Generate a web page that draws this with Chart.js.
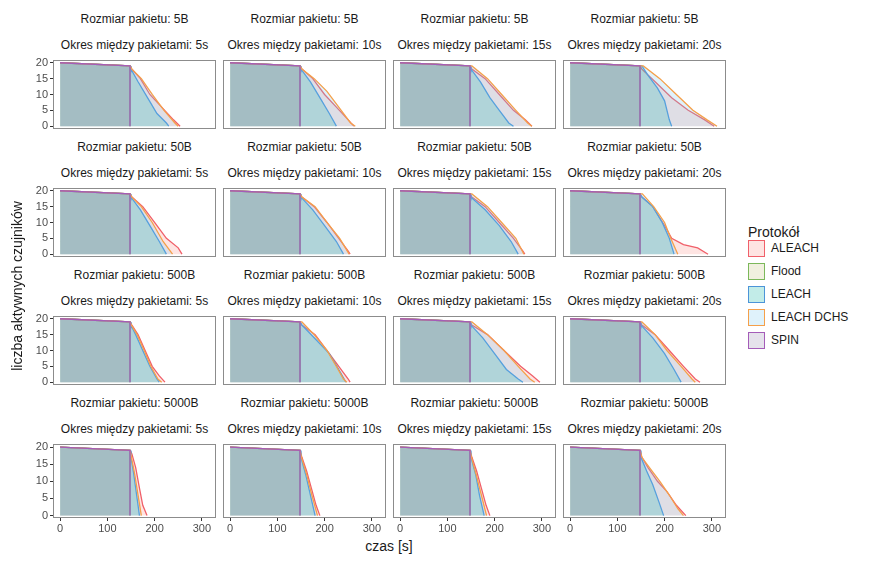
<!DOCTYPE html>
<html lang="pl">
<head>
<meta charset="UTF-8">
<script src="https://cdn.jsdelivr.net/npm/chart.js"></script>
<style>
  body { margin:0; width:872px; height:564px; background:#fff; font-family:"Liberation Sans", Arial, sans-serif; position:relative; overflow:hidden; }
  .t { position:absolute; font-size:12px; color:#1a1a1a; text-align:center; width:170px; }
  .c { position:absolute; }
  .lg { position:absolute; left:748px; font-size:12px; color:#1a1a1a; }
  .sw { display:inline-block; width:17px; height:17px; box-sizing:border-box; border:1px solid; vertical-align:middle; margin-right:6px; }
</style>
</head>
<body>
<div id="root"></div>
<script>
  const sizes = ['5B', '50B', '500B', '5000B'];
  const periods = ['5s', '10s', '15s', '20s'];
  const protocols = ['ALEACH', 'Flood', 'LEACH', 'LEACH DCHS', 'SPIN'];
  const xTicks = [0, 100, 200, 300];
  const yTicks = [0, 5, 10, 15, 20];

  // common start of every series: 20 sensors, slow decline until ~148 s
  const plateau = [[0, 20], [148, 19]];

  // tails after the plateau, one per panel (row = size, col = period)
  const aleach = [
    [[152,18],[170,15],[190,10],[215,6],[240,2],[254,0]],
    [[152,18],[175,15],[200,10],[225,6],[250,2],[262,0]],
    [[152,18],[180,15],[210,10],[240,5],[265,2],[279,0]],
    [[152,18],[180,14],[215,9],[250,5],[285,2],[305,0]],
    [[152,18],[175,15],[200,10],[225,5],[250,2],[258,0]],
    [[152,18],[178,15],[205,10],[230,5],[250,1],[254,0]],
    [[152,18],[180,15],[210,10],[240,5],[260,1],[264,0]],
    [[152,18],[175,15],[200,9],[215,5],[240,3],[270,2],[292,0]],
    [[152,18],[165,15],[180,10],[195,5],[210,2],[222,0]],
    [[152,18],[180,15],[205,10],[230,5],[250,1],[254,0]],
    [[152,18],[185,15],[220,10],[255,5],[280,2],[296,0]],
    [[152,18],[180,15],[210,10],[240,5],[265,1],[275,0]],
    [[152,18],[160,14],[168,8],[175,3],[184,0]],
    [[152,17],[162,13],[172,8],[182,3],[190,0]],
    [[152,17],[162,13],[172,8],[182,3],[190,0]],
    [[152,17],[165,14],[185,10],[205,7],[225,3],[245,0]]
  ];
  const leach = [
    [[150,18],[165,14],[185,9],[205,4],[225,1],[230,0]],
    [[150,18],[170,14],[190,9],[210,4],[225,0]],
    [[150,18],[170,14],[190,9],[210,5],[230,1],[240,0]],
    [[152,19],[165,16],[185,12],[200,8],[210,2],[215,0]],
    [[150,18],[170,14],[190,9],[210,4],[225,0]],
    [[150,18],[175,14],[200,9],[225,4],[240,0]],
    [[150,18],[180,14],[210,9],[235,4],[250,0]],
    [[152,18],[175,15],[195,10],[210,5],[220,0]],
    [[150,18],[160,15],[175,10],[190,5],[205,1],[210,0]],
    [[152,18],[178,14],[210,9],[230,4],[245,0]],
    [[150,18],[175,14],[200,9],[225,4],[250,1],[260,0]],
    [[150,18],[175,14],[200,9],[220,4],[235,0]],
    [[150,17],[156,12],[162,6],[168,0]],
    [[150,17],[160,12],[170,6],[180,0]],
    [[150,17],[160,12],[168,6],[178,0]],
    [[150,17],[162,13],[175,9],[188,4],[198,0]]
  ];
  const dchs = [
    [[152,18],[172,15],[195,10],[220,5],[243,1],[250,0]],
    [[152,18],[178,15],[205,11],[230,6],[255,1],[265,0]],
    [[152,19],[185,15],[215,10],[245,5],[270,1],[279,0]],
    [[155,19],[190,15],[225,10],[260,5],[290,2],[311,0]],
    [[152,18],[172,15],[195,10],[218,4],[238,0]],
    [[152,18],[180,15],[205,10],[232,5],[252,0]],
    [[152,19],[185,15],[215,10],[245,5],[262,0]],
    [[153,19],[177,15],[200,10],[213,5],[228,0]],
    [[151,18],[163,15],[178,10],[192,5],[207,1],[215,0]],
    [[152,19],[178,15],[205,10],[225,5],[240,1],[247,0]],
    [[152,19],[185,15],[220,10],[250,5],[275,1],[285,0]],
    [[152,19],[180,15],[205,10],[235,5],[258,1],[265,0]],
    [[151,17],[158,12],[165,6],[172,0]],
    [[151,17],[162,12],[173,6],[185,0]],
    [[151,17],[161,12],[172,6],[183,0]],
    [[152,17],[168,14],[190,10],[210,6],[228,2],[240,0]]
  ];
  const flood = [[148, 0]];
  const spin = [[148, 0]];

  const styles = {
    'ALEACH':     { fill: 'rgba(248,118,109,0.2)',  line: '#F0606A' },
    'Flood':      { fill: 'rgba(190,185,110,0.22)', line: '#7CB85A' },
    'LEACH':      { fill: 'rgba(0,175,160,0.24)',   line: '#4C94D8' },
    'LEACH DCHS': { fill: 'rgba(120,200,240,0.24)', line: '#F5A04A' },
    'SPIN':       { fill: 'rgba(150,140,175,0.25)', line: '#A45CB8' }
  };

  const root = document.getElementById('root');
  function add(html, cls, style) {
    const d = document.createElement('div');
    d.className = cls; d.innerHTML = html; Object.assign(d.style, style);
    root.appendChild(d); return d;
  }

  const plotLeft = [53, 223, 393, 563], plotW = 163, plotTop0 = 60, plotH = 68, rowStep = 128;
  const yAxisW = 33, pad = 3, xAxisH = 16;

  const frame = {
    id: 'frame',
    afterDraw(c) {
      const a = c.chartArea, ctx = c.ctx;
      ctx.save(); ctx.strokeStyle = '#8c8c8c'; ctx.lineWidth = 1;
      ctx.strokeRect(Math.round(a.left) + 0.5, Math.round(a.top) + 0.5, Math.round(a.width) - 1, Math.round(a.height) - 1);
      ctx.restore();
    }
  };

  for (let r = 0; r < 4; r++) {
    for (let col = 0; col < 4; col++) {
      const i = r * 4 + col;
      const top = plotTop0 + r * rowStep;
      const cx = plotLeft[col] + plotW / 2;
      add('Rozmiar pakietu: ' + sizes[r], 't', { left: (cx - 85) + 'px', top: (top - 48) + 'px' });
      add('Okres między pakietami: ' + periods[col], 't', { left: (cx - 85) + 'px', top: (top - 22) + 'px' });

      const left = col === 0 ? plotLeft[col] - yAxisW : plotLeft[col];
      const w = col === 0 ? plotW + yAxisW : plotW;
      const h = plotH + 2 * pad + 12 + (r === 3 ? xAxisH : 0);
      const box = add('<canvas></canvas>', 'c', { left: left + 'px', top: (top - pad - 6) + 'px', width: w + 'px', height: h + 'px' });

      const series = {
        'ALEACH': aleach[i], 'Flood': flood, 'LEACH': leach[i], 'LEACH DCHS': dchs[i], 'SPIN': spin
      };
      const datasets = protocols.map((p, k) => ({
        label: p,
        data: plateau.concat(series[p]).map(([x, y]) => ({ x, y })),
        backgroundColor: styles[p].fill,
        borderColor: styles[p].line,
        borderWidth: 1.3,
        fill: 'origin',
        pointRadius: 0,
        tension: 0,
        order: 4 - k
      }));

      new Chart(box.querySelector('canvas'), {
        type: 'line',
        data: { datasets },
        plugins: [frame],
        options: {
          responsive: true, maintainAspectRatio: false, animation: false,
          layout: { padding: { top: pad, bottom: r === 3 ? 0 : pad, left: 0, right: 0 } },
          plugins: { legend: { display: false }, tooltip: { enabled: false } },
          scales: {
            x: {
              type: 'linear', min: -15, max: 330,
              afterBuildTicks: s => { s.ticks = xTicks.map(v => ({ value: v })); },
              afterFit: s => { s.height = r === 3 ? xAxisH + 3 : 0; },
              grid: { display: r === 3, drawOnChartArea: false, tickLength: 3, color: '#333' },
              border: { display: false },
              ticks: { display: r === 3, autoSkip: false, color: '#4d4d4d', font: { size: 11 }, padding: 1, maxRotation: 0 }
            },
            y: {
              min: -0.7, max: 21,
              afterBuildTicks: s => { s.ticks = yTicks.map(v => ({ value: v })); },
              afterFit: s => { s.width = col === 0 ? yAxisW : 0; },
              grid: { display: col === 0, drawOnChartArea: false, tickLength: 3, color: '#333' },
              border: { display: false },
              ticks: { display: true, autoSkip: false, color: col === 0 ? '#4d4d4d' : 'rgba(0,0,0,0)', font: { size: 11 }, padding: 2 }
            }
          }
        }
      });
    }
  }

  add('czas [s]', 't', { left: '304px', top: '538px', fontSize: '14px' });
  add('liczba aktywnych czujników', 't', { left: '-93px', top: '278px', width: '220px', fontSize: '14px', transform: 'rotate(-90deg)' });

  add('Protokół', 'lg', { top: '224px', fontSize: '14px' });
  protocols.forEach((p, k) => {
    add('<span class="sw" style="background:' + styles[p].fill + ';border-color:' + styles[p].line + '"></span>' + p,
        'lg', { top: (240 + k * 23) + 'px' });
  });
</script>
</body>
</html>
